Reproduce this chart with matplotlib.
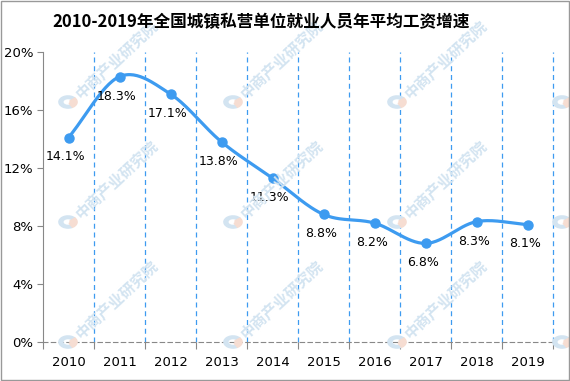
import numpy as np
import matplotlib.pyplot as plt
from matplotlib.patches import Rectangle, Wedge

plt.rcParams['font.family'] = ['DejaVu Sans', 'Noto Sans CJK SC']

years = ["2010", "2011", "2012", "2013", "2014", "2015", "2016", "2017", "2018", "2019"]
growth = [14.1, 18.3, 17.1, 13.8, 11.3, 8.8, 8.2, 6.8, 8.3, 8.1]
labels = ["14.1%", "18.3%", "17.1%", "13.8%", "11.3%", "8.8%", "8.2%", "6.8%", "8.3%", "8.1%"]
yticks = [0, 4, 8, 12, 16, 20]

W, H = 570, 381
BLUE = "#3d9bf0"


def smooth(xs, ys, n=30):
    # catmull-rom through the points, like excel's smoothed line
    xs = np.asarray(xs, float)
    ys = np.asarray(ys, float)
    px = np.concatenate([[2 * xs[0] - xs[1]], xs, [2 * xs[-1] - xs[-2]]])
    py = np.concatenate([[2 * ys[0] - ys[1]], ys, [2 * ys[-1] - ys[-2]]])
    outx, outy = [], []
    t = np.linspace(0, 1, n)
    for i in range(1, len(px) - 2):
        for p, out in ((px, outx), (py, outy)):
            p0, p1, p2, p3 = p[i - 1], p[i], p[i + 1], p[i + 2]
            out.extend(0.5 * (2 * p1 + (-p0 + p2) * t + (2 * p0 - 5 * p1 + 4 * p2 - p3) * t ** 2
                              + (-p0 + 3 * p1 - 3 * p2 + p3) * t ** 3))
    return np.array(outx), np.array(outy)


fig = plt.figure(figsize=(W / 100, H / 100), dpi=100)


def fx(x):
    return x / W


def fy(y):
    return 1 - y / H


# watermarks (logo everywhere, text only where it fits inside the frame)
for lx in [-97, 68, 233, 397, 562]:
    for ly in [-18, 102, 222, 342]:
        if 0 < lx < 500 and ly > 50:
            fig.text(fx(lx + 10), fy(ly - 6), "中商产业研究院", rotation=43, rotation_mode="anchor",
                     ha="left", va="center", fontsize=11, fontweight="bold", color="#d3e4f1",
                     family=["Noto Sans CJK SC"], zorder=0)
        fig.patches.append(Wedge((fx(lx), fy(ly)), 0.016, 40, 300, width=0.007,
                                 transform=fig.transFigure, color="#d3e4f1", zorder=0))
        fig.patches.append(Wedge((fx(lx), fy(ly)), 0.016, 300, 40, width=0.012,
                                 transform=fig.transFigure, color="#f6ddd2", zorder=0))

ax = fig.add_axes([43 / W, 1 - 342 / H, 510 / W, 290 / H])
ax.patch.set_alpha(0)

x = np.arange(len(years))
ax.set_xlim(-0.5, len(years) - 0.5)
ax.set_ylim(0, 20)

for b in np.arange(0.5, len(years), 1.0):
    ax.axvline(b, color=BLUE, lw=0.9, ls=(0, (4, 3)), zorder=1, clip_on=False)

sx, sy = smooth(x, growth)
ax.plot(sx, sy, color=BLUE, lw=2.3, solid_capstyle="round", zorder=3)
ax.plot(x, growth, "o", color=BLUE, ms=6.5, zorder=4)

for xi, yi, lab in zip(x, growth, labels):
    ax.annotate(lab, (xi, yi), xytext=(-2, -14), textcoords="offset points",
                ha="center", va="center", fontsize=9, color="black", zorder=5)

ax.set_yticks(yticks)
ax.set_yticklabels([f"{v}%" for v in yticks], fontsize=9.5)
ax.set_xticks(np.arange(-0.5, len(years), 1.0))
ax.set_xticklabels([])
ax.set_xticks(x, minor=True)
ax.set_xticklabels(years, minor=True, fontsize=9.5)
ax.tick_params(axis="x", which="minor", length=0, pad=10)
ax.tick_params(axis="x", which="major", length=5, color="#888888")
ax.tick_params(axis="y", length=4, color="#888888", pad=3)

for s in ["top", "right"]:
    ax.spines[s].set_visible(False)
ax.spines["left"].set_color("#888888")
ax.spines["bottom"].set_color("#888888")
ax.spines["bottom"].set_linestyle((0, (4, 3)))

fig.text(fx(261), fy(22), "2010-2019年全国城镇私营单位就业人员年平均工资增速", ha="center", va="center",
         fontsize=12, fontweight="bold", family=["Noto Sans CJK SC"])

fig.patches.append(Rectangle((0.001, 0.002), 0.997, 0.995, transform=fig.transFigure,
                             fill=False, edgecolor="#999999", lw=1))

fig.savefig("out.png", dpi=100)
